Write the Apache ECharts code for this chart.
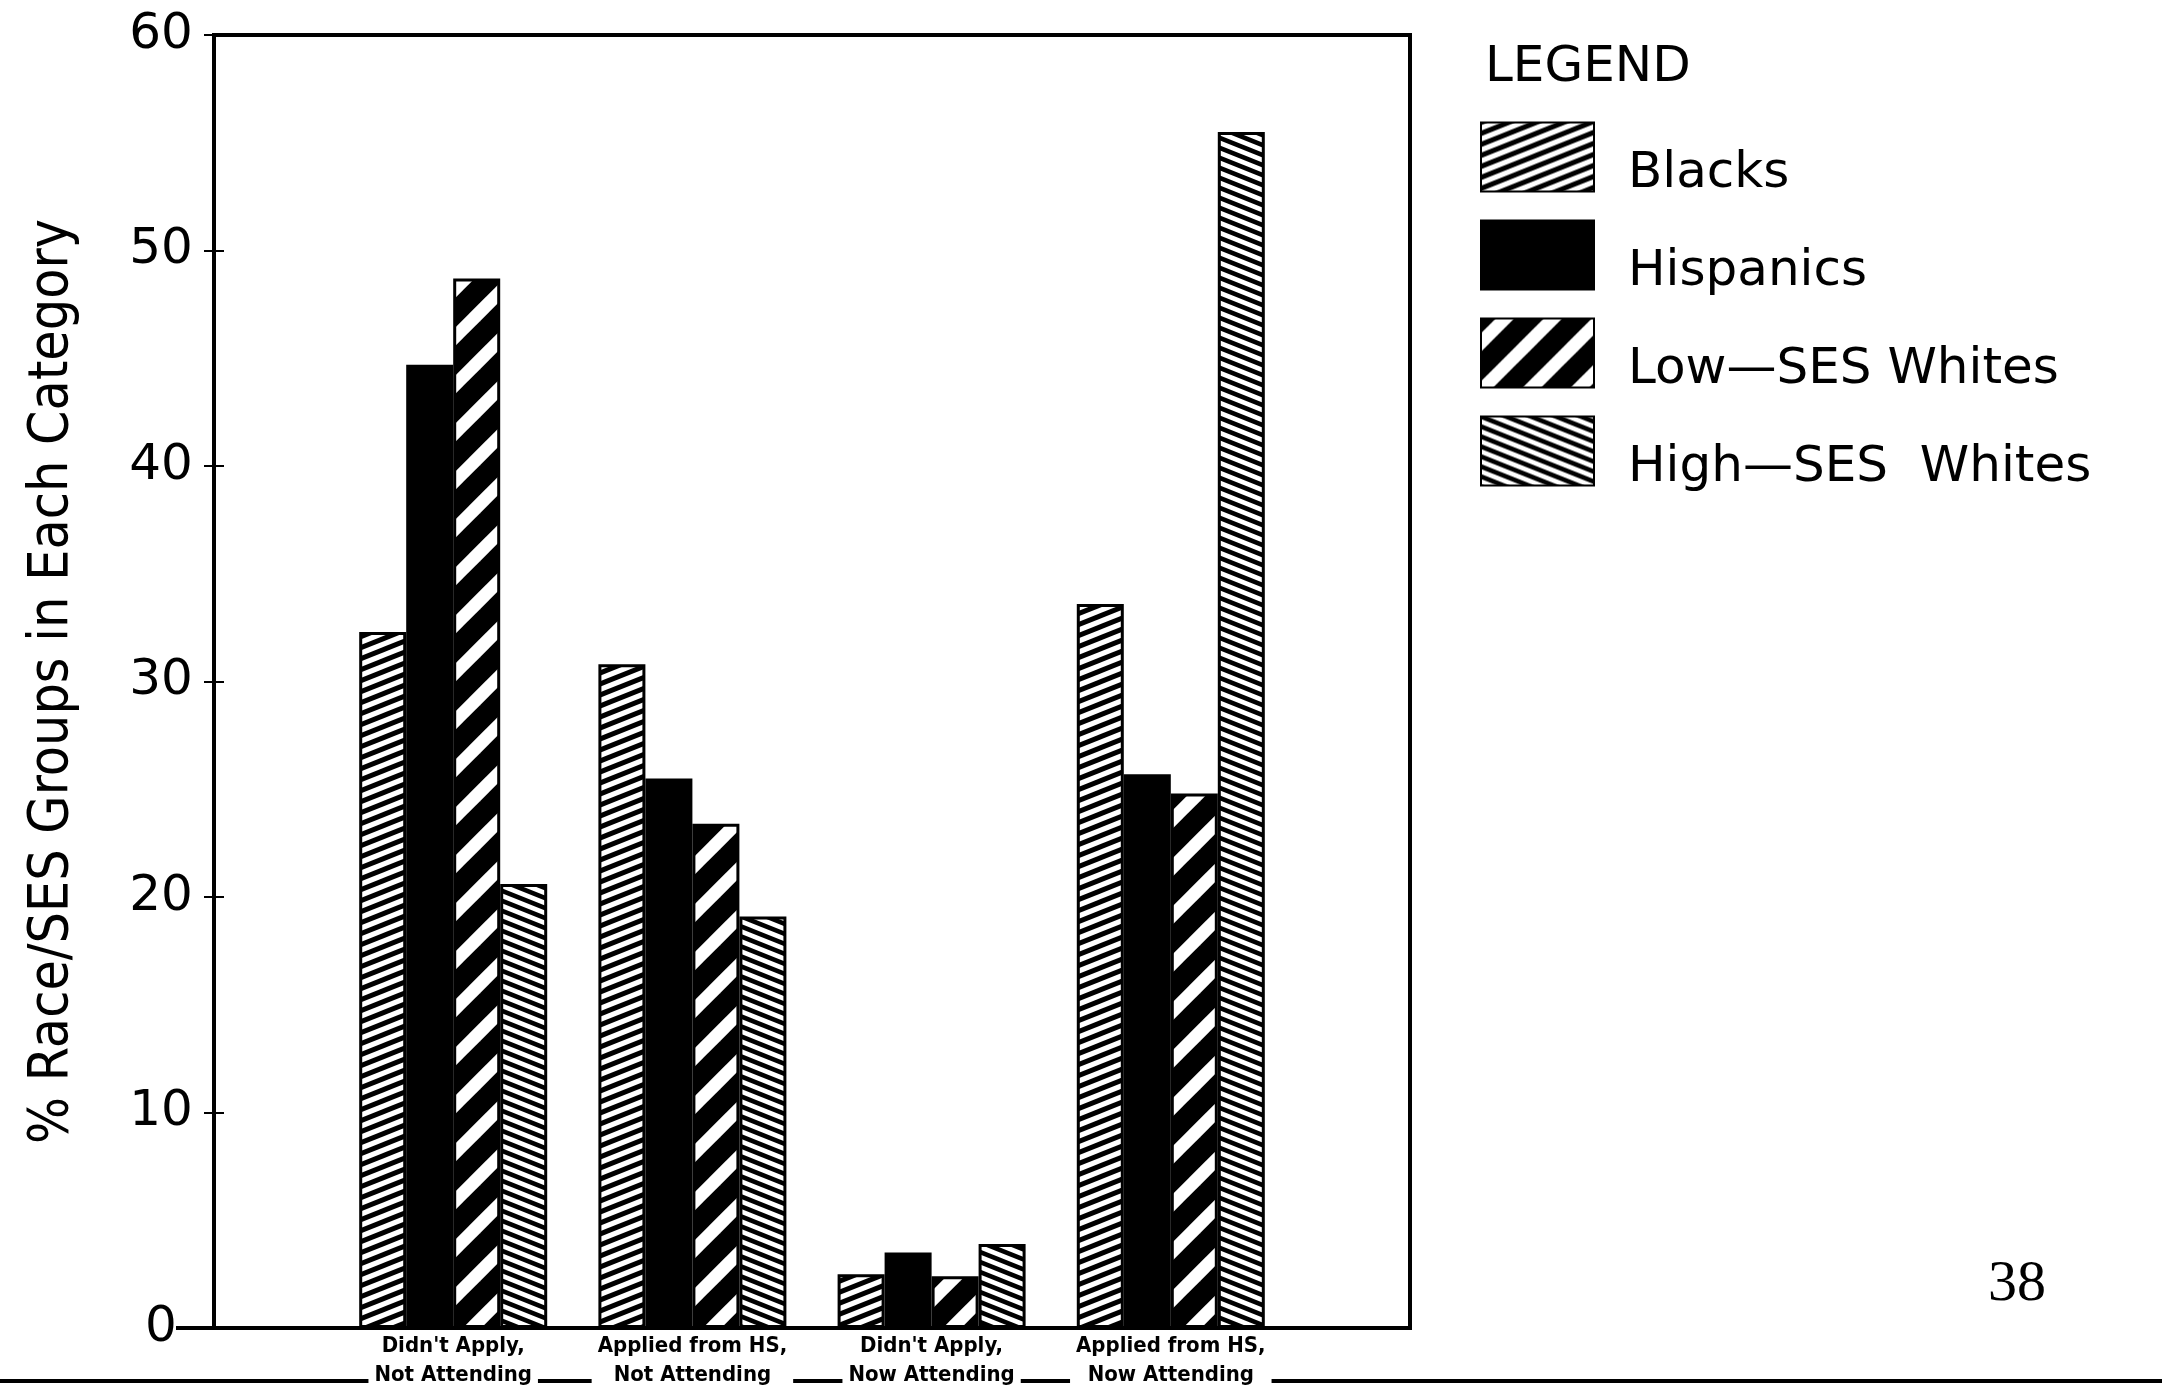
<!DOCTYPE html>
<html>
<head>
<meta charset="utf-8">
<script src="https://cdn.jsdelivr.net/npm/echarts@6/dist/echarts.min.js"></script>
<style>
html,body{margin:0;padding:0;background:#fff;}
#chart{width:2162px;height:1392px;}
</style>
</head>
<body>
<div id="chart"></div>
<script>
// ---- data ----
var categories = ["Didn't Apply,\nNot Attending", "Applied from HS,\nNot Attending", "Didn't Apply,\nNow Attending", "Applied from HS,\nNow Attending"];
var seriesNames = ["Blacks", "Hispanics", "Low\u2014SES Whites", "High\u2014SES  Whites"];
var blacks    = [32.3, 30.8, 2.5, 33.6];
var hispanics = [44.7, 25.5, 3.5, 25.7];
var lowSES    = [48.7, 23.4, 2.4, 24.8];
var highSES   = [20.6, 19.1, 3.9, 55.5];
var yTicks = [0, 10, 20, 30, 40, 50, 60];
var yTitle = "% Race/SES Groups in Each Category";
var pageNumber = "38";

// ---- patterns ----
function hatch(w, period, slope, lw, dir) {
  var c = document.createElement('canvas');
  c.width = w; c.height = period;
  var ctx = c.getContext('2d');
  ctx.fillStyle = '#fff';
  ctx.fillRect(0, 0, w, period);
  ctx.strokeStyle = '#000';
  ctx.lineWidth = lw;
  for (var k = -30; k <= 30; k++) {
    var c0 = k * period;
    ctx.beginPath();
    if (dir > 0) {
      ctx.moveTo(-w, c0 + slope * w);
      ctx.lineTo(2 * w, c0 - slope * 2 * w);
    } else {
      ctx.moveTo(-w, c0 - slope * w);
      ctx.lineTo(2 * w, c0 + slope * 2 * w);
    }
    ctx.stroke();
  }
  return {image: c, repeat: 'repeat'};
}
var patBlacks = hatch(55, 11, 0.4, 5.0, 1);
var patLow = hatch(48, 48, 1.0, 21, 1);
var patHigh = hatch(50, 10, 0.4, 4.6, -1);

var cats = [''].concat(categories).concat(['']);
function pad(arr) { return ['-'].concat(arr).concat(['-']); }

var font = 'DejaVu Sans, Verdana, sans-serif';

var chart = echarts.init(document.getElementById('chart'), null, {renderer: 'canvas'});

function bar(name, data, color) {
  return {
    name: name, type: 'bar', data: pad(data),
    barWidth: 47, barGap: '0%',
    itemStyle: {color: color, borderColor: '#000', borderWidth: 3},
    emphasis: {disabled: true}
  };
}

var option = {
  animation: false,
  backgroundColor: '#fff',
  title: {
    text: 'LEGEND', left: 1485, top: 43, padding: 0,
    textStyle: {fontFamily: font, fontSize: 50, fontWeight: 'normal', color: '#000'}
  },
  legend: {
    orient: 'vertical', left: 1480, top: 115, padding: 0,
    itemWidth: 113, itemHeight: 69, itemGap: 14, icon: 'rect',
    selectedMode: false,
    data: seriesNames,
    formatter: function (name) { return '\n' + name; },
    textStyle: {fontFamily: font, fontSize: 50, lineHeight: 34, color: '#000', padding: [0, 0, 0, 29]}
  },
  grid: {left: 214, right: 752, top: 35, bottom: 64, show: true, borderColor: '#000', borderWidth: 4},
  xAxis: {
    type: 'category', data: cats, boundaryGap: false,
    axisLine: {lineStyle: {color: '#000', width: 4}},
    axisTick: {show: false},
    splitLine: {show: false},
    axisLabel: {
      interval: 0, margin: 4, color: '#000',
      fontFamily: 'DejaVu Sans Condensed, Liberation Sans Narrow, sans-serif',
      fontWeight: 'bold', fontSize: 22, lineHeight: 29,
      backgroundColor: '#fff', padding: [0, 6, 0, 6]
    }
  },
  yAxis: [{
    type: 'value', min: 0, max: 60, interval: 10,
    axisLine: {show: true, lineStyle: {color: '#000', width: 3}},
    axisTick: {show: true, length: 10, lineStyle: {color: '#000', width: 2}},
    splitLine: {show: false},
    axisLabel: {margin: 53, align: 'center', color: '#000', fontFamily: font, fontSize: 50,
      formatter: function (v) { return yTicks.indexOf(v) >= 0 ? String(v) : ''; }},
    name: yTitle, nameLocation: 'middle', nameGap: 134,
    nameTextStyle: {color: '#000', fontSize: 55, fontFamily: 'DejaVu Sans Condensed, Liberation Sans Narrow, sans-serif'}
  }, {
    type: 'value', min: 0, max: 60, interval: 10, position: 'left',
    axisLine: {show: false},
    axisTick: {show: true, inside: true, length: 10, lineStyle: {color: '#000', width: 2}},
    axisLabel: {show: false},
    splitLine: {show: false}
  }],
  graphic: [
    {type: 'line', z: -5, shape: {x1: 0, y1: 1381, x2: 2162, y2: 1381}, style: {stroke: '#000', lineWidth: 4}},
    {type: 'line', z: 5, shape: {x1: 176, y1: 1328, x2: 214, y2: 1328}, style: {stroke: '#000', lineWidth: 4}},
    {type: 'text', left: 1988, top: 1256, style: {text: pageNumber, font: '58px "Liberation Serif", "DejaVu Serif", serif', fill: '#000'}}
  ],
  series: [
    bar(seriesNames[0], blacks, patBlacks),
    bar(seriesNames[1], hispanics, '#000'),
    bar(seriesNames[2], lowSES, patLow),
    bar(seriesNames[3], highSES, patHigh)
  ]
};
chart.setOption(option);
</script>
</body>
</html>
